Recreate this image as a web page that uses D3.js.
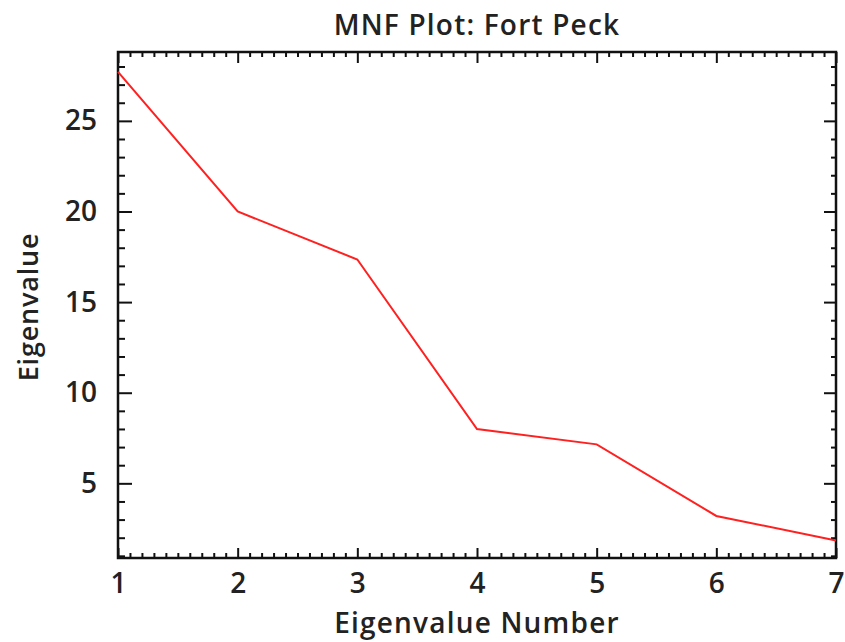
<!DOCTYPE html>
<html>
<head>
<meta charset="utf-8">
<script src="https://cdn.jsdelivr.net/npm/d3@7/dist/d3.min.js"></script>
<style>
  html, body { margin: 0; padding: 0; background: #fff; }
  svg text { font-family: "Open Sans", "Noto Sans", sans-serif; fill: #222; font-weight: 600; }
</style>
</head>
<body>
<svg id="chart" width="845" height="642"></svg>
<script>
// Eigenvalue number and eigenvalue for the MNF transform
const components = [1, 2, 3, 4, 5, 6, 7];
const eigenvalues = [27.7, 20.0, 17.35, 8.0, 7.15, 3.2, 1.85];
const xTickValues = [1, 2, 3, 4, 5, 6, 7];
const yTickValues = [5, 10, 15, 20, 25];

const svg = d3.select("#chart");
const margin = { left: 118, right: 9, top: 52, bottom: 84 };
const W = 845, H = 642;
const iw = W - margin.left - margin.right;
const ih = H - margin.top - margin.bottom;

const x = d3.scaleLinear().domain([1, 7]).range([0, iw]);
const y = d3.scaleLinear().domain([0.88, 28.8]).range([ih, 0]);

const g = svg.append("g").attr("transform", `translate(${margin.left},${margin.top})`);

// minor tick positions
const xMinor = d3.range(1, 7.0001, 0.1).map(v => +v.toFixed(1)).filter(v => !xTickValues.includes(v));
const yMinor = d3.range(1, 28.5, 1).filter(v => !yTickValues.includes(v));

function styleAxis(sel) {
  sel.select(".domain").remove();
  sel.selectAll("line").attr("stroke", "#111").attr("stroke-width", 2);
}

// bottom axis: labels + inward ticks
const bottom = g.append("g").attr("transform", `translate(0,${ih})`)
  .call(d3.axisBottom(x).tickValues(xTickValues).tickSize(-10).tickPadding(15).tickFormat(d3.format("d")));
styleAxis(bottom);
bottom.selectAll("text").attr("font-size", 28).attr("font-weight", 500).attr("fill", "#222");
g.append("g").attr("transform", `translate(0,${ih})`)
  .call(d3.axisBottom(x).tickValues(xMinor).tickSize(-5).tickFormat(""))
  .call(styleAxis);

// top axis: ticks only
g.append("g").call(d3.axisTop(x).tickValues(xTickValues).tickSize(-11).tickFormat("")).call(styleAxis);
g.append("g").call(d3.axisTop(x).tickValues(xMinor).tickSize(-5).tickFormat("")).call(styleAxis);

// left axis: labels + inward ticks
const left = g.append("g")
  .call(d3.axisLeft(y).tickValues(yTickValues).tickSize(-14).tickPadding(21).tickFormat(d3.format("d")));
styleAxis(left);
left.selectAll("text").attr("font-size", 28).attr("font-weight", 500).attr("fill", "#222");
g.append("g").call(d3.axisLeft(y).tickValues(yMinor).tickSize(-7).tickFormat("")).call(styleAxis);

// right axis: ticks only
g.append("g").attr("transform", `translate(${iw},0)`)
  .call(d3.axisRight(y).tickValues(yTickValues).tickSize(-12).tickFormat("")).call(styleAxis);
g.append("g").attr("transform", `translate(${iw},0)`)
  .call(d3.axisRight(y).tickValues(yMinor).tickSize(-5).tickFormat("")).call(styleAxis);

// frame
g.append("rect").attr("width", iw).attr("height", ih)
  .attr("fill", "none").attr("stroke", "#111").attr("stroke-width", 2.5);

// eigenvalue curve
g.append("path")
  .datum(components.map((c, i) => [c, eigenvalues[i]]))
  .attr("fill", "none").attr("stroke", "#ff2020").attr("stroke-width", 2)
  .attr("d", d3.line().x(d => x(d[0])).y(d => y(d[1])));

// titles
svg.append("text").attr("x", margin.left + iw / 2).attr("y", 35)
  .attr("text-anchor", "middle").attr("font-size", 28).attr("letter-spacing", 1.2)
  .text("MNF Plot: Fort Peck");
svg.append("text").attr("x", margin.left + iw / 2).attr("y", 633)
  .attr("text-anchor", "middle").attr("font-size", 28).attr("letter-spacing", 1.2)
  .text("Eigenvalue Number");
svg.append("text").attr("transform", `translate(38,${margin.top + ih / 2 + 2}) rotate(-90)`)
  .attr("text-anchor", "middle").attr("font-size", 27).attr("letter-spacing", 0.8)
  .text("Eigenvalue");
</script>
</body>
</html>
